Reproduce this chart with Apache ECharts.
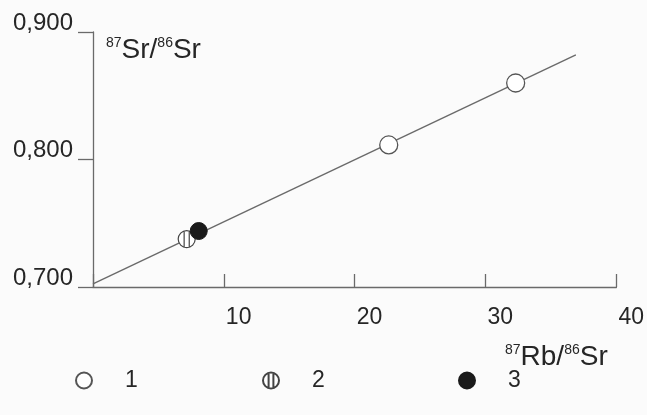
<!DOCTYPE html>
<html>
<head>
<meta charset="utf-8">
<script src="https://cdn.jsdelivr.net/npm/echarts@6/dist/echarts.min.js"></script>
<style>
html,body{margin:0;padding:0;background:#fbfbfb;}
#c{width:647px;height:415px;}
</style>
</head>
<body>
<div id="c"></div>
<script>
// Data (x = 87Rb/86Sr, y = 87Sr/86Sr)
const group1 = [[22.6, 0.8114], [32.3, 0.8600]];
const group2 = [[7.16, 0.7376]];
const group3 = [[8.08, 0.7439]];
const isochron = [[0, 0.7024], [36.9, 0.8820]];
const legendNames = ['1', '2', '3'];
const xTicks = [0, 10, 20, 30, 40];
const yTicks = [0.700, 0.800, 0.900];

const ink = '#262626';
const lineCol = '#6a6a6a';
const font = 'Liberation Sans, Arial, sans-serif';
const stripedPath = 'path://M0,10A10,10 0 1,1 20,10A10,10 0 1,1 0,10Z M7,0.6L7,19.4 M13,0.6L13,19.4';

const chart = echarts.init(document.getElementById('c'), null, {renderer: 'canvas'});
const legendBase = {
  orient: 'horizontal', top: 364, itemWidth: 16, itemHeight: 16,
  textStyle: {fontFamily: font, fontSize: 23, color: ink, padding: [0, 0, 0, 28]},
  selectedMode: false
};
chart.setOption({
  backgroundColor: '#fbfbfb',
  animation: false,
  grid: {left: 93, right: 29, top: 32, bottom: 128, containLabel: false},
  xAxis: {
    type: 'value', min: xTicks[0], max: xTicks[xTicks.length - 1], interval: 10,
    axisLine: {show: true, onZero: false, lineStyle: {color: lineCol, width: 1.3}},
    axisTick: {show: true, inside: true, length: 13, lineStyle: {color: lineCol, width: 1.3}},
    splitLine: {show: false},
    axisLabel: {
      margin: 19, fontFamily: font, fontSize: 23, color: ink, align: 'left',
      formatter: v => (v === 0 ? '' : String(v)),
      padding: [0, 0, 0, 2]
    }
  },
  yAxis: {
    type: 'value', min: yTicks[0], max: yTicks[yTicks.length - 1], interval: 0.1,
    axisLine: {show: true, lineStyle: {color: lineCol, width: 1.3}},
    axisTick: {show: true, inside: false, length: 15, lineStyle: {color: lineCol, width: 1.3}},
    splitLine: {show: false},
    axisLabel: {
      margin: 20, fontFamily: font, fontSize: 24, color: ink,
      verticalAlign: 'bottom', lineHeight: 24, padding: [0, 0, -3, 0],
      formatter: v => v.toFixed(3).replace('.', ',')
    }
  },
  legend: [
    Object.assign({}, legendBase, {left: 70, data: [{name: legendNames[0], icon: 'circle'}]}),
    Object.assign({}, legendBase, {left: 257, data: [{name: legendNames[1], icon: stripedPath}]}),
    Object.assign({}, legendBase, {left: 453, data: [{name: legendNames[2], icon: 'circle'}]})
  ],
  graphic: [
    {
      type: 'text', left: 106, top: 36,
      style: {
        text: '{s|87}{b|Sr/}{s|86}{b|Sr}',
        rich: {
          s: {fontFamily: font, fontSize: 14, fill: ink, verticalAlign: 'top', lineHeight: 28},
          b: {fontFamily: font, fontSize: 28, fill: ink, lineHeight: 28}
        }
      }
    },
    {
      type: 'text', left: 505, top: 343,
      style: {
        text: '{s|87}{b|Rb/}{s|86}{b|Sr}',
        rich: {
          s: {fontFamily: font, fontSize: 14, fill: ink, verticalAlign: 'top', lineHeight: 28},
          b: {fontFamily: font, fontSize: 28, fill: ink, lineHeight: 28}
        }
      }
    }
  ],
  series: [
    {
      type: 'line', data: isochron, symbol: 'none', silent: true, z: 1,
      lineStyle: {color: lineCol, width: 1.4}
    },
    {
      name: legendNames[0], type: 'scatter', data: group1, symbol: 'circle', symbolSize: 18, z: 3,
      itemStyle: {color: '#ffffff', borderColor: '#555', borderWidth: 1.3, opacity: 1}
    },
    {
      name: legendNames[1], type: 'scatter', data: group2, symbol: stripedPath, symbolSize: 17, z: 3,
      itemStyle: {color: '#ffffff', borderColor: '#444', borderWidth: 1.2, opacity: 1}
    },
    {
      name: legendNames[2], type: 'scatter', data: group3, symbol: 'circle', symbolSize: 17, z: 4,
      itemStyle: {color: '#1a1a1a', borderColor: '#1a1a1a', borderWidth: 1, opacity: 1}
    }
  ]
});
</script>
</body>
</html>
